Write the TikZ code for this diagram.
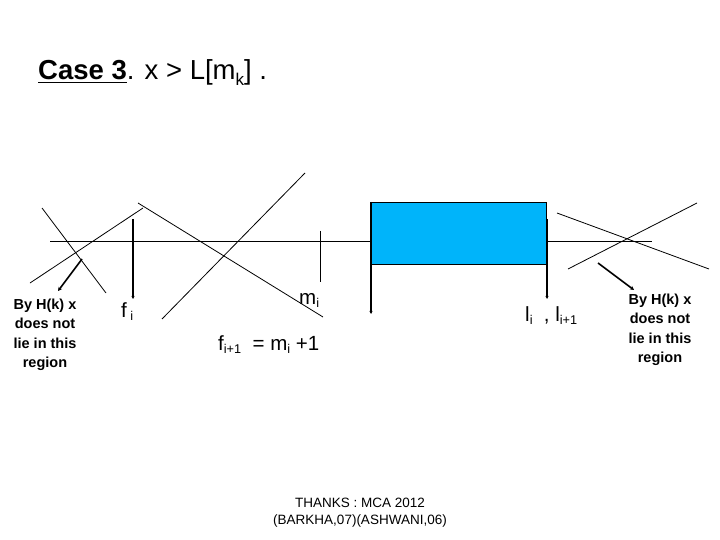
\documentclass[tikz,border=0pt]{standalone}
\usepackage{fontspec}
\setmainfont{Liberation Sans}
\usetikzlibrary{arrows.meta}
\newcommand{\lowidx}[1]{\raisebox{-0.35ex}{\scalebox{0.62}{#1}}}
\definecolor{boxblue}{RGB}{0,180,250}
\tikzset{
  thin line/.style={line width=0.8pt, black},
  arrowline/.style={line width=1.6pt, -{Stealth[length=4pt,width=4pt]}},
  vline/.style={line width=1.2pt, -{Stealth[length=3pt,width=3pt]}},
  note/.style={font=\fontsize{14.5}{19.5}\selectfont\bfseries, align=center, inner sep=0pt},
  lbl/.style={font=\fontsize{20.5}{22}\selectfont, inner sep=0pt}
}
\begin{document}
\begin{tikzpicture}[x=1pt,y=-1pt]
\useasboundingbox (0,0) rectangle (720,540);
% title
\node[anchor=base west, inner sep=0pt, font=\fontsize{27.5}{30}\selectfont] (title) at (38,80)
  {\underline{\textbf{Case 3}}. x > L[m\lowidx{k}] .};
% main horizontal line
\coordinate (hl) at (50,241);
\coordinate (hr) at (652,241);
\draw[thin line] (hl) -- (hr);
% rectangle
\node[draw=black, line width=0.8pt, fill=boxblue, minimum width=175pt, minimum height=62pt, inner sep=0pt, anchor=north west] (box) at (371,202) {};
\draw[line width=1.5pt] (box.north west) -- (box.south west);
% left X
\coordinate (lx1a) at (42,208); \coordinate (lx1b) at (106,293);
\coordinate (lx2a) at (30,283); \coordinate (lx2b) at (143,208);
\draw[thin line] (lx1a) -- (lx1b);
\draw[thin line] (lx2a) -- (lx2b);
\coordinate (la1) at (82,259); \coordinate (la2) at (58,291);
\draw[arrowline] (la1) -- (la2);
\node[note] (lnote) at (45,335) {By H(k) x\\does not\\lie in this\\region};
% f_i arrow
\coordinate (fa1) at (133,219); \coordinate (fa2) at (133,299);
\draw[vline] (fa1) -- (fa2);
\node[lbl, anchor=base west] (fi) at (121,317) {f\,\lowidx{i}};
% long crossing lines
\coordinate (c1a) at (138,203); \coordinate (c1b) at (323,317);
\coordinate (c2a) at (162,319); \coordinate (c2b) at (305,173);
\draw[thin line] (c1a) -- (c1b);
\draw[thin line] (c2a) -- (c2b);
% m_i tick
\coordinate (mt1) at (320,231); \coordinate (mt2) at (320,282);
\draw[line width=1pt] (mt1) -- (mt2);
\node[lbl, anchor=base west] (mi) at (299,304) {m\lowidx{i}};
\node[lbl, anchor=base west] (fi1) at (218,350) {f\lowidx{i+1}\ \ = m\lowidx{i} +1};
% vertical arrows from box
\coordinate (ba1) at (371,264); \coordinate (ba2) at (371,314);
\draw[vline] (ba1) -- (ba2);
\coordinate (bb1) at (547,219); \coordinate (bb2) at (547,299);
\draw[vline] (bb1) -- (bb2);
\node[lbl, anchor=base west] (li) at (525,321) {l\lowidx{i}\ \ , l\lowidx{i+1}};
% right X
\coordinate (rx1a) at (557,213); \coordinate (rx1b) at (709,269);
\coordinate (rx2a) at (568,269); \coordinate (rx2b) at (697,203);
\draw[thin line] (rx1a) -- (rx1b);
\draw[thin line] (rx2a) -- (rx2b);
\coordinate (ra1) at (598,263); \coordinate (ra2) at (634,290);
\draw[arrowline] (ra1) -- (ra2);
\node[note] (rnote) at (660,330) {By H(k) x\\does not\\lie in this\\region};
% thanks
\node[align=center, inner sep=0pt, font=\fontsize{13.5}{17}\selectfont] (thanks) at (360,513)
  {THANKS : MCA 2012\\(BARKHA,07)(ASHWANI,06)};
\end{tikzpicture}
\end{document}
